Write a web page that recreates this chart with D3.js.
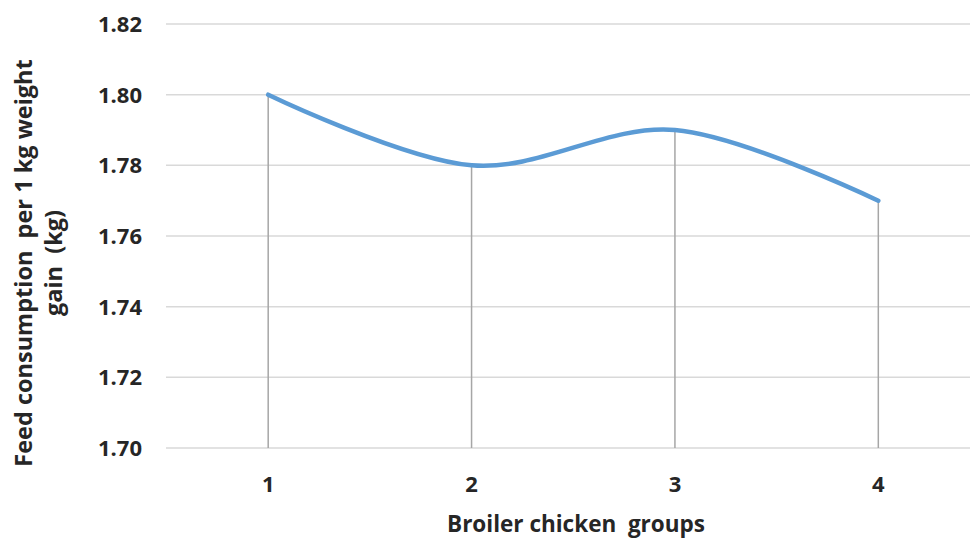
<!DOCTYPE html>
<html>
<head>
<meta charset="utf-8">
<script src="https://cdn.jsdelivr.net/npm/d3@7"></script>
<style>
  html, body { margin: 0; padding: 0; background: #fff; }
  svg text { font-family: "Open Sans", "Noto Sans", sans-serif; font-weight: bold; fill: #262626; white-space: pre; }
</style>
</head>
<body>
<svg id="chart" width="971" height="538"></svg>
<script>
const groups = ["1", "2", "3", "4"];
const feedValues = [1.80, 1.78, 1.79, 1.77];
const yTicks = [1.70, 1.72, 1.74, 1.76, 1.78, 1.80, 1.82];
const xTitle = "Broiler chicken  groups";
const yTitleLines = ["Feed consumption  per 1 kg weight", "gain  (kg)"];

const svg = d3.select("#chart");
const x = d3.scaleBand().domain(groups).range([166.5, 980]);
const y = d3.scaleLinear().domain([1.70, 1.82]).range([448, 24]);
const gridX0 = 166, gridX1 = 970;
const cx = d => x(d) + x.bandwidth() / 2;

// gridlines
svg.append("g").selectAll("line").data(yTicks).join("line")
  .attr("x1", gridX0).attr("x2", gridX1)
  .attr("y1", d => y(d)).attr("y2", d => y(d))
  .attr("stroke", "#d9d9d9").attr("stroke-width", 1.5);

// y tick labels
svg.append("g").selectAll("text").data(yTicks).join("text")
  .attr("x", 142).attr("y", d => y(d)).attr("dy", "0.36em")
  .attr("text-anchor", "end").attr("font-size", 22)
  .text(d => d3.format(".2f")(d));

// x tick labels
svg.append("g").selectAll("text").data(groups).join("text")
  .attr("x", d => cx(d)).attr("y", 492)
  .attr("text-anchor", "middle").attr("font-size", 22)
  .text(d => d);

// drop lines
const pts = groups.map((g, i) => ({ g, v: feedValues[i] }));
svg.append("g").selectAll("line").data(pts).join("line")
  .attr("x1", d => cx(d.g)).attr("x2", d => cx(d.g))
  .attr("y1", d => y(d.v)).attr("y2", y(1.70))
  .attr("stroke", "#a6a6a6").attr("stroke-width", 1.5);

// smooth line
const line = d3.line().x(d => cx(d.g)).y(d => y(d.v)).curve(d3.curveCatmullRom.alpha(0));
svg.append("path").datum(pts)
  .attr("d", line).attr("fill", "none")
  .attr("stroke", "#5b9bd5").attr("stroke-width", 4.5).attr("stroke-linecap", "round");

// axis titles
svg.append("text").attr("x", 576).attr("y", 532)
  .attr("text-anchor", "middle").attr("font-size", 22.5).text(xTitle);

const yt = svg.append("text").attr("transform", "translate(32,263) rotate(-90)")
  .attr("text-anchor", "middle").attr("font-size", 23.5);
yt.selectAll("tspan").data(yTitleLines).join("tspan")
  .attr("x", 0).attr("dy", (d, i) => i === 0 ? 0 : 30).text(d => d);
</script>
</body>
</html>
